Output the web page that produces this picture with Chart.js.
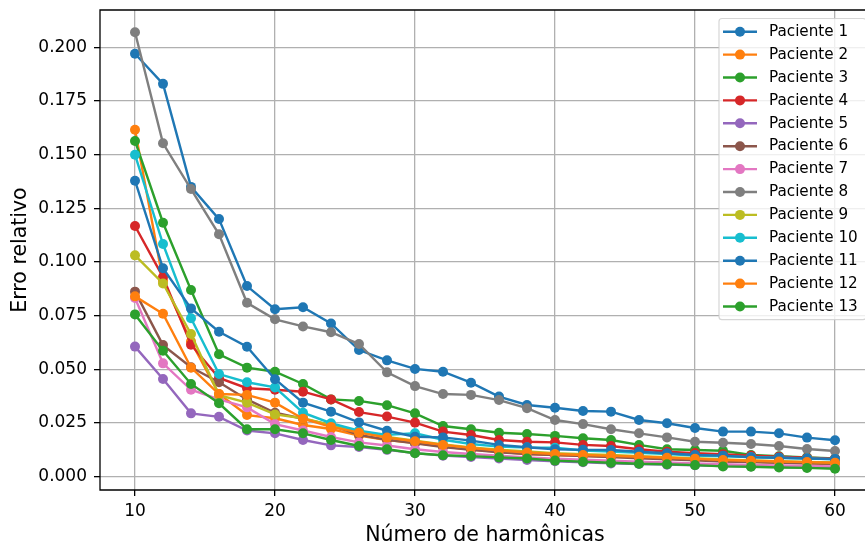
<!DOCTYPE html>
<html>
<head>
<meta charset="utf-8">
<title>Erro relativo por número de harmônicas</title>
<script src="https://cdn.jsdelivr.net/npm/chart.js@4.4.1/dist/chart.umd.min.js"></script>
<style>
  html, body { margin: 0; padding: 0; background: #fff; overflow: hidden; }
  #wrap { width: 865px; height: 549px; overflow: hidden; position: relative; }
  canvas { display: block; position: absolute; left: 0; top: 0; }
</style>
</head>
<body>
<div id="wrap"><canvas id="grafico" width="875" height="549" style="width:875px;height:549px"></canvas></div>
<script>
// número de harmônicas usado na reconstrução
const harmonicas = [10, 12, 14, 16, 18, 20, 22, 24, 26, 28, 30, 32, 34, 36, 38, 40, 42, 44, 46, 48, 50, 52, 54, 56, 58, 60];

// erro relativo de cada paciente
const paciente1  = [0.197, 0.183, 0.135, 0.120, 0.0888, 0.078, 0.0789, 0.0714, 0.059, 0.0542, 0.0502, 0.0489, 0.0438, 0.0373, 0.0334, 0.0321, 0.0306, 0.0303, 0.0264, 0.0249, 0.0227, 0.021, 0.021, 0.0202, 0.0182, 0.017];
const paciente2  = [0.1616, 0.0913, 0.063, 0.0385, 0.0287, 0.0272, 0.0241, 0.0222, 0.0191, 0.0171, 0.0158, 0.014, 0.0126, 0.0116, 0.0106, 0.0101, 0.0097, 0.0093, 0.009, 0.0085, 0.008, 0.0073, 0.0069, 0.0066, 0.0062, 0.0059];
const paciente3  = [0.1564, 0.1183, 0.087, 0.057, 0.0508, 0.0489, 0.0432, 0.036, 0.0353, 0.0333, 0.0295, 0.0236, 0.0221, 0.0205, 0.0199, 0.019, 0.0179, 0.0171, 0.0148, 0.0128, 0.0124, 0.0121, 0.0101, 0.0095, 0.009, 0.0085];
const paciente4  = [0.1168, 0.093, 0.0615, 0.046, 0.0412, 0.0405, 0.0396, 0.036, 0.0301, 0.028, 0.0252, 0.021, 0.0194, 0.0171, 0.0163, 0.016, 0.0148, 0.0143, 0.0128, 0.0116, 0.011, 0.0105, 0.0098, 0.0093, 0.0088, 0.0084];
const paciente5  = [0.0606, 0.0455, 0.0295, 0.0279, 0.0215, 0.0202, 0.0171, 0.0146, 0.0138, 0.0125, 0.011, 0.0098, 0.0092, 0.0085, 0.0078, 0.0072, 0.0067, 0.0062, 0.0059, 0.0056, 0.0053, 0.005, 0.0048, 0.0046, 0.0044, 0.0042];
const paciente6  = [0.0862, 0.0613, 0.051, 0.044, 0.036, 0.0298, 0.027, 0.024, 0.0195, 0.0172, 0.0155, 0.0138, 0.0125, 0.0114, 0.0106, 0.0101, 0.0096, 0.0091, 0.0086, 0.0081, 0.0076, 0.0071, 0.0068, 0.0065, 0.0062, 0.006];
const paciente7  = [0.0832, 0.0528, 0.0405, 0.036, 0.0323, 0.0245, 0.0215, 0.0185, 0.016, 0.0145, 0.0128, 0.0115, 0.0106, 0.0098, 0.009, 0.0084, 0.0079, 0.0074, 0.007, 0.0066, 0.0062, 0.0058, 0.0055, 0.0052, 0.005, 0.0048];
const paciente8  = [0.207, 0.1553, 0.134, 0.1129, 0.081, 0.0733, 0.070, 0.0673, 0.0618, 0.0486, 0.0422, 0.0385, 0.0381, 0.0357, 0.0319, 0.0264, 0.0245, 0.0221, 0.0202, 0.0183, 0.0163, 0.0158, 0.0152, 0.0143, 0.0129, 0.012];
const paciente9  = [0.1031, 0.090, 0.0665, 0.038, 0.0345, 0.029, 0.0272, 0.024, 0.021, 0.0185, 0.0168, 0.015, 0.0136, 0.0126, 0.0118, 0.011, 0.0105, 0.0101, 0.0096, 0.0091, 0.0086, 0.008, 0.0076, 0.0072, 0.0069, 0.0066];
const paciente10 = [0.150, 0.1084, 0.0738, 0.0478, 0.044, 0.0416, 0.0298, 0.0249, 0.0214, 0.0195, 0.0202, 0.0172, 0.0152, 0.014, 0.0136, 0.0135, 0.0122, 0.0117, 0.0111, 0.0106, 0.0099, 0.0095, 0.0091, 0.0088, 0.0085, 0.0081];
const paciente11 = [0.1379, 0.0971, 0.0784, 0.0675, 0.0605, 0.0454, 0.0345, 0.0303, 0.0253, 0.0214, 0.0186, 0.0183, 0.0168, 0.0148, 0.0137, 0.0128, 0.0125, 0.0124, 0.0116, 0.0109, 0.0101, 0.0098, 0.009, 0.0088, 0.0085, 0.0082];
const paciente12 = [0.084, 0.0759, 0.0508, 0.0385, 0.0381, 0.0345, 0.027, 0.0232, 0.0205, 0.0182, 0.0165, 0.0148, 0.0134, 0.0122, 0.0113, 0.0106, 0.0101, 0.0097, 0.0093, 0.0088, 0.0083, 0.0078, 0.0074, 0.0071, 0.0068, 0.0065];
const paciente13 = [0.0756, 0.0587, 0.0432, 0.0342, 0.0221, 0.0221, 0.0202, 0.0171, 0.0143, 0.0128, 0.0109, 0.010, 0.0096, 0.009, 0.0085, 0.0075, 0.007, 0.0065, 0.006, 0.0058, 0.0054, 0.0048, 0.0046, 0.0043, 0.0041, 0.0037];

const series = [paciente1, paciente2, paciente3, paciente4, paciente5, paciente6, paciente7,
                paciente8, paciente9, paciente10, paciente11, paciente12, paciente13];
const nomes = series.map((_, i) => "Paciente " + (i + 1));

const xTicks = [10, 20, 30, 40, 50, 60];
const yTicks = [0, 0.025, 0.05, 0.075, 0.1, 0.125, 0.15, 0.175, 0.2];

// paleta padrão (tab10), repete a partir do 11
const cores = ["#1f77b4", "#ff7f0e", "#2ca02c", "#d62728", "#9467bd",
               "#8c564b", "#e377c2", "#7f7f7f", "#bcbd22", "#17becf"];

const FONTE = "'DejaVu Sans', sans-serif";

const datasets = series.map((valores, i) => {
  const cor = cores[i % cores.length];
  return {
    label: nomes[i],
    data: valores.map((v, j) => ({ x: harmonicas[j], y: v })),
    borderColor: cor,
    backgroundColor: cor,
    pointBackgroundColor: cor,
    borderWidth: 2.4,
    pointRadius: 5,
    pointBorderWidth: 0,
    pointHoverRadius: 5,
    tension: 0,
    fill: false,
    // o último paciente fica por cima
    order: series.length - i
  };
});

// eixos esquerdo, superior e inferior em preto
const moldura = {
  id: "moldura",
  afterDatasetsDraw(chart) {
    const { ctx, chartArea: a } = chart;
    ctx.save();
    ctx.strokeStyle = "#000";
    ctx.lineWidth = 1.3;
    ctx.beginPath();
    ctx.moveTo(a.right + 2, a.top);
    ctx.lineTo(a.left, a.top);
    ctx.lineTo(a.left, a.bottom);
    ctx.lineTo(a.right + 2, a.bottom);
    ctx.stroke();
    ctx.restore();
  }
};

// legenda dentro do gráfico, canto superior direito
const legendaInterna = {
  id: "legendaInterna",
  afterDraw(chart) {
    const { ctx, chartArea: a } = chart;
    const fs = 15.2;
    const passo = 22.9;
    const left = 719;
    const right = 866;
    const top = a.top + 8.5;
    const y0 = top + 13.2;
    const bottom = y0 + passo * (series.length - 1) + 13.2;
    const r = 3;

    ctx.save();
    ctx.beginPath();
    ctx.moveTo(left + r, top);
    ctx.arcTo(right, top, right, bottom, r);
    ctx.arcTo(right, bottom, left, bottom, r);
    ctx.arcTo(left, bottom, left, top, r);
    ctx.arcTo(left, top, right, top, r);
    ctx.closePath();
    ctx.fillStyle = "rgba(255,255,255,0.8)";
    ctx.fill();
    ctx.strokeStyle = "rgba(204,204,204,0.8)";
    ctx.lineWidth = 1.2;
    ctx.stroke();

    ctx.font = fs + "px " + FONTE;
    ctx.textBaseline = "middle";
    ctx.textAlign = "left";
    nomes.forEach((nome, i) => {
      const y = y0 + i * passo;
      const cor = cores[i % cores.length];
      ctx.strokeStyle = cor;
      ctx.lineWidth = 2.4;
      ctx.beginPath();
      ctx.moveTo(left + 4, y);
      ctx.lineTo(left + 38, y);
      ctx.stroke();
      ctx.fillStyle = cor;
      ctx.beginPath();
      ctx.arc(left + 21, y, 5, 0, Math.PI * 2);
      ctx.fill();
      ctx.fillStyle = "#000";
      ctx.fillText(nome, left + 50, y + 0.3);
    });
    ctx.restore();
  }
};

new Chart(document.getElementById("grafico"), {
  type: "line",
  data: { datasets: datasets },
  options: {
    responsive: false,
    devicePixelRatio: 1,
    animation: false,
    events: [],
    layout: { padding: { left: 0, right: 2, top: 10, bottom: 0 } },
    plugins: {
      legend: { display: false },
      tooltip: { enabled: false }
    },
    scales: {
      x: {
        type: "linear",
        min: 7.5,
        max: 62.5,
        afterBuildTicks: (s) => { s.ticks = xTicks.map((v) => ({ value: v })); },
        afterFit: (s) => {
          s.height = 59;
          s.paddingLeft = 0;
          s.paddingRight = 0;
        },
        border: { display: false },
        grid: {
          color: "#b0b0b0",
          lineWidth: 1.3,
          drawTicks: true,
          tickLength: 6,
          tickColor: "#000",
          tickWidth: 1.3
        },
        ticks: {
          color: "#000",
          padding: 5,
          maxRotation: 0,
          font: { family: FONTE, size: 17 },
          callback: (v) => String(v)
        },
        title: {
          display: true,
          text: "Número de harmônicas",
          color: "#000",
          font: { family: FONTE, size: 20.5 },
          padding: { top: 0, bottom: 1 }
        }
      },
      y: {
        min: -0.0062,
        max: 0.2174,
        afterBuildTicks: (s) => { s.ticks = yTicks.map((v) => ({ value: v })); },
        afterFit: (s) => {
          s.width = 100;
          s.paddingTop = 0;
          s.paddingBottom = 0;
        },
        border: { display: false },
        grid: {
          color: "#b0b0b0",
          lineWidth: 1.3,
          drawTicks: true,
          tickLength: 6,
          tickColor: "#000",
          tickWidth: 1.3
        },
        ticks: {
          color: "#000",
          padding: 7,
          font: { family: FONTE, size: 17 },
          callback: (v) => Number(v).toFixed(3)
        },
        title: {
          display: true,
          text: "Erro relativo",
          color: "#000",
          font: { family: FONTE, size: 20.5 },
          padding: { top: 8, bottom: 0 }
        }
      }
    }
  },
  plugins: [moldura, legendaInterna]
});
</script>
</body>
</html>
